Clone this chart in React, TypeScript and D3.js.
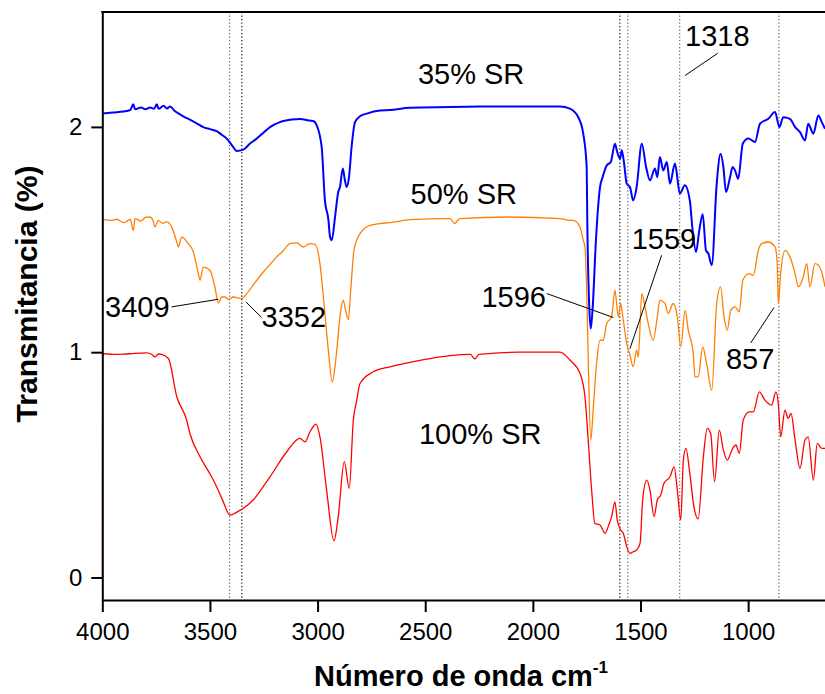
import * as d3 from "d3";
import { useEffect, useRef } from "react";

// 35% SR (blue)
const blueWn = [4000, 3950, 3902, 3870, 3856, 3848, 3820, 3800, 3778, 3760, 3747, 3738, 3715, 3700, 3685, 3665, 3647, 3620, 3593, 3560, 3531, 3500, 3469, 3445, 3422, 3395, 3376, 3345, 3315, 3283, 3250, 3221, 3175, 3159, 3120, 3082, 3035, 3020, 3004, 2981, 2966, 2950, 2942, 2934, 2919, 2904, 2896, 2883, 2873, 2865, 2854, 2842, 2826, 2803, 2772, 2710, 2664, 2571, 2385, 2250, 2106, 1874, 1828, 1789, 1766, 1750, 1747, 1738, 1731, 1722, 1707, 1688, 1676, 1657, 1638, 1619, 1608, 1595, 1587, 1577, 1564, 1549, 1534, 1518, 1494, 1474, 1456, 1433, 1422, 1410, 1394, 1378, 1363, 1340, 1317, 1294, 1271, 1258, 1242, 1227, 1211, 1196, 1185, 1169, 1146, 1128, 1115, 1103, 1084, 1072, 1061, 1046, 1025, 999, 968, 945, 906, 875, 855, 837, 806, 782, 759, 736, 721, 697, 674, 658, 643];
const blueT = [2.059, 2.064, 2.068, 2.075, 2.1, 2.078, 2.086, 2.078, 2.086, 2.08, 2.1, 2.08, 2.094, 2.082, 2.091, 2.072, 2.06, 2.045, 2.032, 2.015, 1.999, 1.99, 1.981, 1.965, 1.948, 1.915, 1.893, 1.899, 1.925, 1.948, 1.975, 1.999, 2.021, 2.026, 2.033, 2.035, 2.028, 2.026, 2.007, 1.911, 1.674, 1.59, 1.511, 1.497, 1.6, 1.711, 1.733, 1.815, 1.763, 1.733, 1.777, 1.911, 2.021, 2.047, 2.059, 2.073, 2.075, 2.085, 2.088, 2.09, 2.091, 2.091, 2.081, 2.043, 1.97, 1.822, 1.571, 1.201, 1.105, 1.201, 1.497, 1.733, 1.777, 1.829, 1.844, 1.925, 1.888, 1.859, 1.896, 1.844, 1.748, 1.733, 1.674, 1.733, 1.925, 1.822, 1.763, 1.815, 1.777, 1.866, 1.807, 1.844, 1.748, 1.837, 1.704, 1.741, 1.674, 1.541, 1.445, 1.541, 1.612, 1.452, 1.438, 1.386, 1.748, 1.881, 1.822, 1.711, 1.777, 1.822, 1.807, 1.77, 1.925, 1.948, 1.933, 2.014, 2.036, 2.066, 1.999, 2.043, 2.036, 1.999, 1.977, 1.94, 2.014, 1.97, 2.051, 2.021, 1.992];

// 50% SR (orange)
const orangeWn = [4000, 3960, 3933, 3900, 3870, 3856, 3848, 3820, 3800, 3778, 3765, 3755, 3740, 3720, 3701, 3678, 3652, 3647, 3631, 3601, 3577, 3554, 3546, 3531, 3500, 3477, 3461, 3445, 3430, 3415, 3392, 3353, 3329, 3290, 3252, 3220, 3190, 3160, 3128, 3097, 3066, 3035, 3012, 2989, 2973, 2950, 2932, 2914, 2896, 2881, 2870, 2857, 2846, 2831, 2803, 2757, 2710, 2664, 2571, 2385, 2362, 2350, 2339, 2106, 1874, 1828, 1812, 1781, 1766, 1758, 1750, 1743, 1731, 1719, 1704, 1688, 1673, 1657, 1634, 1619, 1603, 1592, 1580, 1564, 1549, 1534, 1518, 1510, 1494, 1479, 1464, 1441, 1422, 1410, 1386, 1371, 1348, 1329, 1313, 1293, 1278, 1255, 1247, 1232, 1211, 1193, 1169, 1146, 1128, 1112, 1097, 1081, 1061, 1041, 1025, 995, 976, 953, 937, 906, 875, 865, 860, 849, 829, 806, 782, 767, 744, 728, 713, 690, 674, 658, 643];
const orangeT = [1.59, 1.585, 1.59, 1.575, 1.59, 1.54, 1.593, 1.582, 1.598, 1.6, 1.585, 1.556, 1.585, 1.572, 1.578, 1.556, 1.482, 1.467, 1.511, 1.482, 1.445, 1.349, 1.319, 1.378, 1.364, 1.29, 1.219, 1.245, 1.245, 1.234, 1.245, 1.238, 1.26, 1.31, 1.356, 1.39, 1.423, 1.45, 1.482, 1.485, 1.467, 1.482, 1.479, 1.393, 1.245, 1.009, 0.868, 0.979, 1.157, 1.231, 1.186, 1.145, 1.275, 1.452, 1.526, 1.563, 1.571, 1.575, 1.588, 1.593, 1.571, 1.585, 1.593, 1.6, 1.593, 1.585, 1.585, 1.556, 1.497, 1.467, 1.275, 0.979, 0.61, 0.757, 0.95, 1.053, 1.053, 1.127, 1.157, 1.275, 1.157, 1.216, 1.142, 1.039, 0.987, 0.935, 1.009, 0.979, 1.26, 1.201, 1.127, 1.053, 1.157, 1.231, 1.216, 1.172, 1.216, 1.157, 1.024, 1.186, 1.098, 0.994, 0.89, 0.89, 1.024, 0.95, 0.831, 1.216, 1.29, 1.157, 1.098, 1.186, 1.201, 1.179, 1.319, 1.349, 1.341, 1.452, 1.482, 1.489, 1.467, 1.393, 1.216, 1.349, 1.452, 1.423, 1.349, 1.29, 1.334, 1.393, 1.29, 1.393, 1.386, 1.356, 1.29];

// 100% SR (red)
const redWn = [4000, 3999, 3950, 3902, 3850, 3794, 3770, 3755, 3740, 3724, 3693, 3654, 3608, 3593, 3546, 3500, 3469, 3440, 3407, 3375, 3345, 3299, 3221, 3143, 3082, 3058, 3035, 3007, 2989, 2958, 2924, 2904, 2876, 2853, 2834, 2818, 2803, 2741, 2664, 2524, 2385, 2290, 2270, 2250, 2060, 1874, 1828, 1781, 1758, 1743, 1727, 1712, 1688, 1665, 1645, 1634, 1619, 1608, 1592, 1580, 1564, 1549, 1534, 1518, 1502, 1490, 1471, 1456, 1437, 1422, 1406, 1391, 1363, 1344, 1329, 1313, 1301, 1289, 1271, 1252, 1232, 1208, 1190, 1174, 1156, 1134, 1115, 1097, 1072, 1057, 1041, 1023, 995, 976, 948, 922, 891, 871, 860, 849, 829, 814, 801, 782, 759, 736, 721, 697, 679, 658, 643];
const redT = [0, 0.994, 0.99, 0.991, 0.995, 0.997, 0.99, 0.979, 0.992, 0.99, 0.972, 0.802, 0.698, 0.639, 0.536, 0.46, 0.403, 0.34, 0.277, 0.29, 0.307, 0.344, 0.447, 0.558, 0.617, 0.602, 0.647, 0.681, 0.624, 0.388, 0.163, 0.27, 0.514, 0.396, 0.698, 0.787, 0.861, 0.913, 0.935, 0.964, 0.985, 0.99, 0.97, 0.99, 1.0, 1.0, 0.965, 0.906, 0.802, 0.61, 0.388, 0.24, 0.233, 0.196, 0.24, 0.27, 0.336, 0.255, 0.211, 0.196, 0.137, 0.107, 0.114, 0.122, 0.152, 0.344, 0.432, 0.388, 0.27, 0.344, 0.366, 0.418, 0.447, 0.491, 0.388, 0.255, 0.521, 0.573, 0.462, 0.314, 0.26, 0.536, 0.662, 0.639, 0.425, 0.654, 0.565, 0.521, 0.573, 0.588, 0.551, 0.698, 0.735, 0.735, 0.824, 0.787, 0.765, 0.824, 0.772, 0.624, 0.743, 0.706, 0.728, 0.61, 0.484, 0.61, 0.624, 0.432, 0.595, 0.573, 0.573];

const xMajor = [4000, 3500, 3000, 2500, 2000, 1500, 1000];
const xMinor = [3750, 3250, 2750, 2250, 1750, 1250, 750];
const yMajor = [0, 1, 2];
const yMinor = [0.5, 1.5];

// marked bands (dotted verticals)
const bandWn = [3409, 3352, 1596, 1559, 1318, 857];
const bandDark = [false, true, true, false, false, false];

// peak labels: text, text anchor point, leader line from -> to (data units)
const peakLabels = ["3409", "3352", "1596", "1559", "1318", "857"];
const peakTextWn = [3987, 3260, 1939, 1541, 1293, 1103];
const peakTextT = [1.154, 1.11, 1.2, 1.46, 2.361, 0.925];
const peakAnchor = ["start", "start", "end", "start", "start", "start"];
const leadFromWn = [3678, 3333, 1935, 1402, 1141, 880];
const leadFromT = [1.201, 1.223, 1.26, 1.43, 2.327, 1.198];
const leadToWn = [3461, 3260, 1626, 1549, 1293, 988];
const leadToT = [1.235, 1.154, 1.154, 1.016, 2.228, 1.041];

const seriesNames = ["35% SR", "50% SR", "100% SR"];
const seriesLabelWn = [2534, 2568, 2529];
const seriesLabelT = [2.192, 1.656, 0.592];

const FONT = "'Liberation Sans', Arial, sans-serif";

const App = () => {
  const ref = useRef<SVGSVGElement>(null);

  useEffect(() => {
    const svg = d3.select(ref.current);
    svg.selectAll("*").remove();

    const x = d3.scaleLinear().domain([4000, 643]).range([102.3, 825]);
    const y = d3.scaleLinear().domain([-0.1, 2.51]).range([600, 12]);
    const [x0, x1] = x.range();
    const [yb, yt] = y.range();

    svg.append("defs").append("clipPath").attr("id", "plot-clip")
      .append("rect").attr("x", x0 - 1).attr("y", yt).attr("width", x1 - x0 + 1).attr("height", yb - yt);

    // dotted band markers
    svg.append("g").selectAll("line").data(bandWn).join("line")
      .attr("x1", (d) => x(d)).attr("x2", (d) => x(d))
      .attr("y1", yt).attr("y2", yb)
      .attr("stroke", (d, i) => (bandDark[i] ? "#111" : "#666"))
      .attr("stroke-width", 1.2)
      .attr("stroke-dasharray", "1.3,2.2");

    // spectra
    const series = [
      { wn: blueWn, t: blueT, color: "#0000ff", w: 2 },
      { wn: orangeWn, t: orangeT, color: "#ff8000", w: 1.3 },
      { wn: redWn, t: redT, color: "#ff0000", w: 1.3 },
    ];
    const line = d3.line<[number, number]>()
      .x((d) => x(d[0])).y((d) => y(d[1]))
      .curve(d3.curveMonotoneX);
    svg.append("g").attr("clip-path", "url(#plot-clip)")
      .selectAll("path").data(series).join("path")
      .attr("d", (s) => line(s.wn.map((w, i) => [w, s.t[i]] as [number, number])))
      .attr("fill", "none")
      .attr("stroke", (s) => s.color)
      .attr("stroke-width", (s) => s.w)
      .attr("stroke-linejoin", "round");

    // axes
    const gx = svg.append("g").attr("transform", `translate(0,${yb})`);
    gx.call(d3.axisBottom(x).tickValues(xMinor).tickSize(6).tickFormat(() => "").tickSizeOuter(0));
    gx.call(d3.axisBottom(x).tickValues(xMajor).tickSize(12).tickPadding(11).tickFormat(d3.format("d")).tickSizeOuter(0));
    gx.selectAll("path.domain").attr("stroke-width", 2);
    gx.selectAll(".tick line").attr("stroke-width", 2);
    gx.selectAll("text").attr("font-family", FONT).attr("font-size", 24).attr("fill", "#000");

    const gy = svg.append("g").attr("transform", `translate(${x0},0)`);
    gy.call(d3.axisLeft(y).tickValues(yMinor).tickSize(6).tickFormat(() => "").tickSizeOuter(0));
    gy.call(d3.axisLeft(y).tickValues(yMajor).tickSize(11).tickPadding(9).tickFormat(d3.format("d")).tickSizeOuter(0));
    gy.selectAll("path.domain").attr("stroke-width", 2);
    gy.selectAll(".tick line").attr("stroke-width", 2);
    gy.selectAll("text").attr("font-family", FONT).attr("font-size", 24).attr("fill", "#000");

    // top frame
    svg.append("line").attr("x1", x0 - 1).attr("x2", x1).attr("y1", yt).attr("y2", yt)
      .attr("stroke", "#000").attr("stroke-width", 2);

    // series labels
    svg.append("g").selectAll("text").data(seriesNames).join("text")
      .attr("x", (d, i) => x(seriesLabelWn[i])).attr("y", (d, i) => y(seriesLabelT[i]))
      .attr("font-family", FONT).attr("font-size", 29).attr("fill", "#000")
      .text((d) => d);

    // peak labels and leaders
    svg.append("g").selectAll("line").data(peakLabels).join("line")
      .attr("x1", (d, i) => x(leadFromWn[i])).attr("y1", (d, i) => y(leadFromT[i]))
      .attr("x2", (d, i) => x(leadToWn[i])).attr("y2", (d, i) => y(leadToT[i]))
      .attr("stroke", "#000").attr("stroke-width", 1);
    svg.append("g").selectAll("text").data(peakLabels).join("text")
      .attr("x", (d, i) => x(peakTextWn[i])).attr("y", (d, i) => y(peakTextT[i]))
      .attr("text-anchor", (d, i) => peakAnchor[i])
      .attr("font-family", FONT).attr("font-size", 29).attr("fill", "#000")
      .text((d) => d);

    // axis titles
    const xt = svg.append("text")
      .attr("x", 461).attr("y", 686)
      .attr("text-anchor", "middle")
      .attr("font-family", FONT).attr("font-size", 29).attr("font-weight", "bold");
    xt.append("tspan").text("Número de onda cm");
    xt.append("tspan").attr("dy", -13).attr("font-size", 17).text("-1");

    svg.append("text")
      .attr("transform", "translate(37,294) rotate(-90)")
      .attr("text-anchor", "middle")
      .attr("font-family", FONT).attr("font-size", 30).attr("font-weight", "bold")
      .text("Transmitancia (%)");
  }, []);

  return (
    <svg
      ref={ref}
      width={825}
      height={694}
      style={{ position: "absolute", left: 0, top: 0, background: "#fff" }}
    />
  );
};

export default App;
